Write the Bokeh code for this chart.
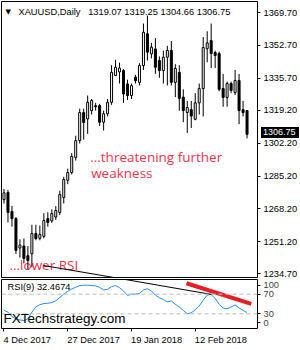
from bokeh.plotting import figure
from bokeh.layouts import column
from bokeh.models import ColumnDataSource, FixedTicker, Span, Label, Range1d, PrintfTickFormatter, Div
from bokeh.core.properties import value
from bokeh.embed import file_html
from bokeh.resources import INLINE

# ---------------- data ----------------
OPEN = [1273.0, 1276.7, 1266.9, 1263.2, 1248.0, 1249.0, 1244.0, 1245.0, 1255.5, 1253.0,
        1254.0, 1263.2, 1262.0, 1264.0, 1266.3, 1274.0, 1283.0, 1287.0, 1294.8, 1303.5,
        1318.0, 1314.7, 1319.0, 1321.5, 1321.6, 1313.0, 1317.4, 1323.3, 1337.1, 1339.0,
        1339.7, 1332.8, 1326.8, 1336.3, 1333.6, 1342.3, 1358.7, 1348.3, 1350.9, 1344.9,
        1339.7, 1346.6, 1350.1, 1333.6, 1338.7, 1326.0, 1318.0, 1319.5, 1314.5, 1323.0,
        1330.4, 1351.0, 1355.2, 1349.0, 1348.5, 1330.4, 1325.8, 1333.0, 1328.3, 1334.6,
        1319.5, 1319.07]
HIGH = [1278.5, 1278.0, 1269.8, 1264.0, 1252.5, 1252.9, 1249.0, 1260.0, 1260.0, 1259.6,
        1266.0, 1266.5, 1268.0, 1269.6, 1277.6, 1284.8, 1289.0, 1297.0, 1306.0, 1320.0,
        1320.0, 1326.8, 1325.0, 1323.0, 1322.5, 1319.0, 1325.0, 1342.5, 1345.3, 1343.8,
        1340.5, 1335.0, 1333.0, 1337.5, 1343.5, 1364.0, 1368.1, 1354.0, 1356.5, 1347.0,
        1350.0, 1352.5, 1355.0, 1343.0, 1342.5, 1330.0, 1324.0, 1324.0, 1328.0, 1333.0,
        1357.0, 1360.0, 1364.0, 1350.0, 1349.5, 1338.0, 1334.0, 1334.0, 1340.0, 1338.0,
        1324.0, 1319.25]
LOW = [1271.0, 1261.2, 1259.0, 1245.0, 1243.0, 1240.0, 1236.9, 1238.0, 1252.0, 1252.0,
       1253.0, 1259.0, 1261.0, 1262.5, 1265.0, 1271.0, 1281.0, 1286.0, 1293.2, 1302.0,
       1304.0, 1307.0, 1317.0, 1319.0, 1311.0, 1308.7, 1316.0, 1322.0, 1337.0, 1333.0,
       1323.0, 1324.5, 1325.0, 1333.0, 1332.0, 1340.0, 1344.9, 1346.0, 1338.0, 1336.0,
       1333.0, 1332.0, 1332.0, 1326.0, 1319.0, 1313.0, 1307.5, 1310.0, 1314.0, 1317.0,
       1316.0, 1344.0, 1341.0, 1341.0, 1329.0, 1321.0, 1321.0, 1328.0, 1327.0, 1312.0,
       1316.0, 1304.66]
CLOSE = [1276.5, 1266.3, 1263.2, 1246.7, 1249.5, 1242.6, 1241.5, 1255.5, 1252.9, 1255.0,
         1262.2, 1261.2, 1265.8, 1267.4, 1275.6, 1283.4, 1287.0, 1295.3, 1303.5, 1318.0,
         1312.9, 1323.3, 1324.2, 1321.0, 1313.0, 1317.4, 1323.3, 1338.8, 1341.4, 1341.0,
         1327.6, 1326.8, 1331.9, 1334.5, 1342.3, 1359.5, 1349.2, 1351.8, 1341.4, 1339.7,
         1346.6, 1350.1, 1333.6, 1340.8, 1325.3, 1319.0, 1320.6, 1316.2, 1323.0, 1330.4,
         1351.6, 1354.0, 1348.5, 1347.5, 1330.0, 1325.8, 1333.0, 1329.4, 1334.6, 1319.0,
         1318.0, 1306.75]
RSI = [36.9, 33.4, 24.4, 19.6, 17.5, 16.1, 19.6, 33.4, 43.9, 48.7,
       50.8, 51.5, 52.9, 56.3, 63.3, 70.2, 75.8, 80.6, 84.1, 87.6,
       88.3, 88.3, 87.6, 86.9, 84.1, 78.6, 80.0, 85.5, 87.6, 83.4,
       76.5, 67.5, 70.2, 70.2, 71.6, 78.6, 81.3, 76.5, 68.2, 62.6,
       59.1, 54.3, 56.3, 49.4, 43.9, 36.9, 30.0, 32.1, 38.3, 46.0,
       57.7, 68.2, 69.5, 61.2, 49.4, 41.8, 40.4, 43.9, 48.0, 41.8,
       36.9, 32.47]
IDX = list(range(len(OPEN)))

PRICE_TICKS = [1234.70, 1251.20, 1268.20, 1285.20, 1302.20, 1319.20, 1335.70, 1352.70, 1369.70]
DATE_TICKS = [0, 16, 32, 48]
DATE_LABELS = ["4 Dec 2017", "27 Dec 2017", "19 Jan 2018", "12 Feb 2018"]
RSI_LEVELS = [30, 70]
RSI_LABELS = ["0", "30", "70", "100"]

# trend lines (bar index, value)
TREND_MAIN_X = [9.875, 30.0]
TREND_MAIN_Y = [1238.96, 1231.9]
TREND_RSI_X = [28.0, 52.125]
TREND_RSI_Y = [103.5, 69.4]
RED_X = [45.8, 62.05]
RED_Y = [92.4, 50.4]

AX_FONT = "Liberation Sans"
AX_SIZE = "9.3px"
RED = "#f0324b"

# ---------------- main price panel ----------------
xr = Range1d(-0.625, 63.625)
p = figure(width=300, height=278, x_range=xr, y_range=Range1d(1232.75, 1375.4),
           output_backend="svg", toolbar_location=None, x_axis_location=None,
           y_axis_location="right", min_border_left=1, min_border_right=42,
           min_border_top=1, min_border_bottom=1)
p.grid.visible = False
p.outline_line_color = "black"
p.outline_line_alpha = 1
p.yaxis.ticker = FixedTicker(ticks=PRICE_TICKS)
p.yaxis.formatter = PrintfTickFormatter(format="%.2f")
p.yaxis.axis_line_color = None
p.yaxis.major_tick_out = 3
p.yaxis.major_tick_in = 0
p.yaxis.minor_tick_line_color = None
p.yaxis.major_tick_line_color = "black"
p.yaxis.major_label_standoff = 3
p.yaxis.major_label_text_font = AX_FONT
p.yaxis.major_label_text_font_size = AX_SIZE
p.yaxis.major_label_text_color = "black"

# red annotation texts (drawn beneath candles)
p.text(x=[21.625], y=[1294.8], text=["...threatening further"], text_color=RED,
       text_font=value("Open Sans"), text_font_size="13.5px", text_baseline="alphabetic")
p.text(x=[21.875], y=[1287.0], text=["weakness"], text_color=RED,
       text_font=value("Open Sans"), text_font_size="13.5px", text_baseline="alphabetic")
p.text(x=[1.375], y=[1238.96], text=["...lower RSI"], text_color=RED,
       text_font=value("Open Sans"), text_font_size="13.5px", text_baseline="alphabetic")

src = ColumnDataSource(dict(
    x=IDX, high=HIGH, low=LOW,
    top=[max(o, c) for o, c in zip(OPEN, CLOSE)],
    bottom=[min(o, c) for o, c in zip(OPEN, CLOSE)],
    fill=["white" if c >= o else "black" for o, c in zip(OPEN, CLOSE)],
))
p.segment(x0="x", y0="high", x1="x", y1="low", source=src, line_color="black", line_width=1)
p.vbar(x="x", width=0.5, top="top", bottom="bottom", source=src,
       fill_color="fill", line_color="black", line_width=1)

p.line(TREND_MAIN_X, TREND_MAIN_Y, line_color="black", line_width=1)

p.add_layout(Label(x=0.375, y=1370.23, text="\u25bc", text_font="DejaVu Sans",
                   text_font_size="7px", text_baseline="middle", text_color="black"))
p.add_layout(Label(x=3.625, y=1370.23, text="XAUUSD,Daily", text_font=AX_FONT,
                   text_font_size=AX_SIZE, text_baseline="middle", text_color="black"))
p.add_layout(Label(x=21.125, y=1370.23, text="1319.07 1319.25 1304.66 1306.75",
                   text_font=AX_FONT, text_font_size=AX_SIZE, text_baseline="middle",
                   text_color="black"))

# ---------------- RSI panel ----------------
r = figure(width=300, height=54, x_range=xr, y_range=Range1d(0, 100),
           output_backend="svg", toolbar_location=None, y_axis_location="right",
           min_border_left=1, min_border_right=42, min_border_top=1, min_border_bottom=4)
r.grid.visible = False
r.outline_line_color = "black"
for lv in RSI_LEVELS:
    r.add_layout(Span(location=lv, dimension="width", line_color="#bdbdbd",
                      line_dash="4 3", line_width=1))
r.line(IDX, RSI, line_color="#1e90ff", line_width=1)
r.line(TREND_RSI_X, TREND_RSI_Y, line_color="black", line_width=1)
r.line(RED_X, RED_Y, line_color="#ea1c24", line_width=4)

rsi_tick_pos = [11.5, 30, 70, 88.5]
r.yaxis.ticker = FixedTicker(ticks=rsi_tick_pos)
r.yaxis.major_label_overrides = {k: v for k, v in zip(rsi_tick_pos, RSI_LABELS)}
r.yaxis.axis_line_color = None
r.yaxis.major_tick_out = 3
r.yaxis.major_tick_in = 0
r.yaxis.minor_tick_line_color = None
r.yaxis.major_label_standoff = 3
r.yaxis.major_label_text_font = AX_FONT
r.yaxis.major_label_text_font_size = AX_SIZE

# x axis: tick marks only here, the date texts are drawn left-aligned below
r.xaxis.ticker = FixedTicker(ticks=DATE_TICKS)
r.xaxis.major_label_overrides = {k: "" for k in DATE_TICKS}
r.xaxis.major_label_text_font_size = "1px"
r.xaxis.major_label_standoff = 0
r.xaxis.axis_line_color = None
r.xaxis.major_tick_out = 3
r.xaxis.major_tick_in = 0
r.xaxis.minor_tick_line_color = None

r.add_layout(Label(x=0.875, y=83.7, text="RSI(9) %.4f" % 32.4674, text_font=AX_FONT,
                   text_font_size=AX_SIZE, text_baseline="middle", text_color="black"))
r.add_layout(Label(x=-0.125, y=20.4, text="FXTechstrategy.com", text_font=AX_FONT,
                   text_font_size="13.5px", text_baseline="middle", text_color="black"))

# ---------------- date strip ----------------
d = figure(width=300, height=18, x_range=xr, y_range=Range1d(0, 18),
           output_backend="svg", toolbar_location=None, x_axis_location=None,
           y_axis_location=None, min_border_left=1, min_border_right=42,
           min_border_top=0, min_border_bottom=0)
d.grid.visible = False
d.outline_line_color = None
d.text(x=[t - 0.125 for t in DATE_TICKS], y=[11] * len(DATE_TICKS), text=DATE_LABELS,
       text_font=value(AX_FONT), text_font_size=AX_SIZE, text_color="black",
       text_align="left", text_baseline="middle")

# ---------------- current price tag on the price scale ----------------
tag = Div(text="%.2f" % CLOSE[-1], width=38, height=11,
          styles={"position": "absolute", "left": "261px", "top": "127px",
                  "box-sizing": "border-box", "padding": "0 0 0 2px", "margin": "0",
                  "background-color": "black", "color": "white", "overflow": "visible",
                  "white-space": "nowrap",
                  "font-family": AX_FONT, "font-size": "9px", "line-height": "11px",
                  "text-align": "left", "z-index": "10"})

layout = column(p, r, d, tag, spacing=0)
open("out.html", "w").write(file_html(layout, INLINE))
